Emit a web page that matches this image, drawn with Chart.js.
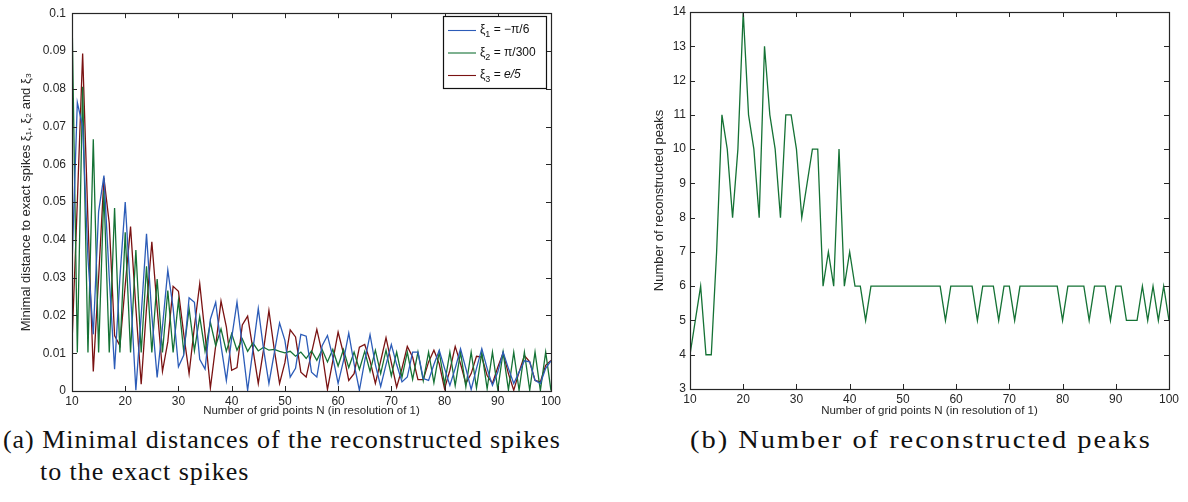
<!DOCTYPE html>
<html>
<head>
<meta charset="utf-8">
<script src="https://cdn.jsdelivr.net/npm/chart.js@4.4.1/dist/chart.umd.min.js"></script>
<style>
  html, body { margin: 0; padding: 0; background: #fff; }
  body { width: 1188px; height: 502px; position: relative; overflow: hidden; }
  canvas { position: absolute; top: 0; }
  #cvA { left: 0; }
  #cvB { left: 600px; }
  .cap { position: absolute; top: 424px; font-family: "Liberation Serif", "DejaVu Serif", serif;
         font-size: 26px; line-height: 32px; letter-spacing: 0.95px; color: #111; white-space: nowrap; }
  #capA { left: 3px; padding-left: 37px; text-indent: -37px; }
  #capB { left: 690px; letter-spacing: 1.8px; transform: scaleX(1.095); transform-origin: 0 0; }
</style>
</head>
<body>
<canvas id="cvA" width="570" height="420"></canvas>
<canvas id="cvB" width="585" height="420"></canvas>
<div class="cap" id="capA">(a) Minimal distances of the reconstructed spikes<br>to the exact spikes</div>
<div class="cap" id="capB">(b) Number of reconstructed peaks</div>
<script>
// Grid sizes N = 10 … 100
const gridN = [];
for (let n = 10; n <= 100; n++) gridN.push(n);

// Minimal distance to exact spike xi1 = -pi/6
const distXi1 = [
  0.033, 0.0764, 0.070, 0.035, 0.015, 0.0475, 0.057, 0.030, 0.0058, 0.030,
  0.050, 0.026, 0.0002, 0.020, 0.0416, 0.020, 0.0036, 0.017, 0.032, 0.022,
  0.0064, 0.0095, 0.0247, 0.0235, 0.0084, 0.0058, 0.019, 0.0235, 0.012, 0.0028,
  0.014, 0.0235, 0.012, 0.0002, 0.011, 0.0218, 0.011, 0.002, 0.010, 0.018,
  0.0134, 0.0037, 0.006, 0.015, 0.0145, 0.005, 0.0037, 0.012, 0.0147, 0.009,
  0.002, 0.008, 0.0153, 0.0072, 0.0002, 0.008, 0.0149, 0.007, 0.0012, 0.007,
  0.0123, 0.007, 0.0024, 0.0037, 0.0103, 0.0103, 0.0033, 0.0028, 0.007, 0.0108,
  0.006, 0.0015, 0.006, 0.0112, 0.006, 0.0004, 0.006, 0.0112, 0.006, 0.0015,
  0.005, 0.0103, 0.006, 0.002, 0.005, 0.008, 0.0077, 0.0028, 0.002, 0.006,
  0.008
];

// Minimal distance to exact spike xi2 = pi/300
const distXi2 = [
  0.100, 0.0102, 0.0805, 0.0102, 0.0666, 0.0102, 0.053, 0.0102, 0.0484, 0.0102,
  0.042, 0.0102, 0.0373, 0.0102, 0.033, 0.0102, 0.0296, 0.0102, 0.0266, 0.0102,
  0.024, 0.0104, 0.0218, 0.0107, 0.0197, 0.0105, 0.0182, 0.012, 0.0164, 0.0105,
  0.0152, 0.0108, 0.0138, 0.0105, 0.0127, 0.0106, 0.0116, 0.0108, 0.011, 0.0105,
  0.0101, 0.0105, 0.0092, 0.0103, 0.0086, 0.0106, 0.0081, 0.011, 0.0077, 0.011,
  0.0066, 0.011, 0.0062, 0.0103, 0.0057, 0.0105, 0.0052, 0.0108, 0.0046, 0.0108,
  0.0040, 0.0103, 0.0036, 0.0103, 0.0031, 0.0103, 0.0027, 0.0103, 0.0022, 0.0103,
  0.0018, 0.0103, 0.0014, 0.0103, 0.0011, 0.0103, 0.0008, 0.0103, 0.0006, 0.0103,
  0.0004, 0.0103, 0.0003, 0.0103, 0.0002, 0.0103, 0.0002, 0.0103, 0.0001, 0.0103,
  0.0001
];

// Minimal distance to exact spike xi3 = e/5
const distXi3 = [
  0.0125, 0.050, 0.0893, 0.045, 0.0052, 0.030, 0.0564, 0.0444, 0.0147, 0.012,
  0.028, 0.0435, 0.022, 0.0018, 0.022, 0.0395, 0.022, 0.0052, 0.013, 0.0277,
  0.0264, 0.015, 0.0046, 0.017, 0.0284, 0.015, 0.0008, 0.012, 0.0238, 0.017,
  0.0055, 0.0062, 0.0175, 0.0198, 0.011, 0.002, 0.011, 0.0213, 0.011, 0.002,
  0.0075, 0.0162, 0.0143, 0.005, 0.0037, 0.010, 0.0163, 0.010, 0.0004, 0.008,
  0.0156, 0.010, 0.0028, 0.0046, 0.0116, 0.0123, 0.008, 0.002, 0.008, 0.0141,
  0.0075, 0.001, 0.006, 0.0118, 0.009, 0.003, 0.003, 0.0077, 0.0108, 0.0072,
  0.0006, 0.0055, 0.0118, 0.0072, 0.002, 0.0046, 0.0092, 0.009, 0.0041, 0.002,
  0.0063, 0.0101, 0.0046, 0.0002, 0.005, 0.0094, 0.0077, 0.0028, 0.0024, 0.0068,
  0.0081
];

// Number of reconstructed peaks
const peakCount = [
  4, 5, 6, 4, 4, 7, 11, 10, 8, 10,
  14, 11, 10, 8, 13, 11, 10, 8, 11, 11,
  10, 8, 9, 10, 10, 6, 7, 6, 10, 6,
  7, 6, 6, 5, 6, 6, 6, 6, 6, 6,
  6, 6, 6, 6, 6, 6, 6, 6, 5, 6,
  6, 6, 6, 6, 5, 6, 6, 6, 5, 6,
  6, 5, 6, 6, 6, 6, 6, 6, 6, 6,
  5, 6, 6, 6, 6, 5, 6, 6, 6, 5,
  6, 6, 5, 5, 5, 6, 5, 6, 5, 6,
  5
];

const seriesLabels = ['ξ1 = −π/6', 'ξ2 = π/300', 'ξ3 = e/5'];
const xTicks = [10, 20, 30, 40, 50, 60, 70, 80, 90, 100];

const COLORS = { blue: '#2c5cb8', green: '#157235', red: '#7a1212' };
const AXIS = '#262626';
const SANS = '"Liberation Sans", Arial, Helvetica, sans-serif';

const pts = vals => vals.map((v, i) => ({ x: gridN[i], y: v }));

// Box around the plot area with MATLAB-style inward tick marks on all sides
const frameTicks = {
  id: 'frameTicks',
  afterDatasetsDraw(chart) {
    const { ctx, chartArea: a, scales: { x, y } } = chart;
    const L = 5;
    ctx.save();
    ctx.strokeStyle = AXIS;
    ctx.lineWidth = 1;
    ctx.beginPath();
    x.ticks.forEach(t => {
      const px = Math.round(x.getPixelForValue(t.value)) + 0.5;
      ctx.moveTo(px, a.bottom); ctx.lineTo(px, a.bottom - L);
      ctx.moveTo(px, a.top); ctx.lineTo(px, a.top + L);
    });
    y.ticks.forEach(t => {
      const py = Math.round(y.getPixelForValue(t.value)) + 0.5;
      ctx.moveTo(a.left, py); ctx.lineTo(a.left + L, py);
      ctx.moveTo(a.right, py); ctx.lineTo(a.right - L, py);
    });
    ctx.stroke();
    ctx.lineWidth = 1.2;
    ctx.strokeRect(Math.round(a.left) + 0.5, Math.round(a.top) + 0.5,
                   Math.round(a.right - a.left), Math.round(a.bottom - a.top));
    ctx.restore();
  }
};

// Boxed legend in the upper right corner with subscripted symbols
const boxLegend = {
  id: 'boxLegend',
  afterDraw(chart) {
    const { ctx, chartArea: a } = chart;
    const w = 103, h = 72;
    const bx = Math.round(a.right) - 5 - w, by = Math.round(a.top) + 3;
    ctx.save();
    ctx.fillStyle = '#fff';
    ctx.fillRect(bx, by, w, h);
    ctx.strokeStyle = '#111';
    ctx.lineWidth = 1.2;
    ctx.strokeRect(bx + 0.5, by + 0.5, w, h);
    chart.data.datasets.forEach((ds, i) => {
      const ly = by + 14 + i * 22.5;
      ctx.strokeStyle = ds.borderColor;
      ctx.lineWidth = 1.1;
      ctx.beginPath();
      ctx.moveTo(bx + 5, ly + 0.5); ctx.lineTo(bx + 33, ly + 0.5);
      ctx.stroke();
      ctx.fillStyle = '#111';
      ctx.textBaseline = 'alphabetic';
      let tx = bx + 37;
      const base = ly + 3;
      const sym = ds.label.slice(0, 1);
      const sub = ds.label.slice(1, 2);
      const rest = ds.label.slice(2);
      ctx.font = '12px ' + SANS;
      ctx.fillText(sym, tx, base); tx += ctx.measureText(sym).width;
      ctx.font = '9px ' + SANS;
      ctx.fillText(sub, tx, base + 4); tx += ctx.measureText(sub).width;
      ctx.font = '12px ' + SANS;
      const italicPart = rest.indexOf('e/5') >= 0;
      const eq = italicPart ? rest.replace('e/5', '') : rest;
      ctx.fillText(eq, tx, base); tx += ctx.measureText(eq).width;
      if (italicPart) {
        ctx.font = 'italic 12px ' + SANS;
        ctx.fillText('e/5', tx, base);
      }
    });
    ctx.restore();
  }
};

function xScale(height) {
  return {
    type: 'linear', min: 10, max: 100,
    afterFit: s => { s.height = height; },
    afterBuildTicks: s => { s.ticks = xTicks.map(v => ({ value: v })); },
    grid: { display: false, drawTicks: false },
    border: { display: false },
    ticks: { color: AXIS, font: { family: SANS, size: 12 }, padding: 3, maxRotation: 0, autoSkip: false },
    title: { display: true, text: 'Number of grid points N (in resolution of 1)', color: AXIS,
             font: { family: SANS, size: 11.5 }, padding: { top: 0, bottom: 2 } }
  };
}

new Chart(document.getElementById('cvA'), {
  type: 'line',
  data: {
    datasets: [
      { label: seriesLabels[0], data: pts(distXi1), borderColor: COLORS.blue },
      { label: seriesLabels[1], data: pts(distXi2), borderColor: COLORS.green },
      { label: seriesLabels[2], data: pts(distXi3), borderColor: COLORS.red }
    ].map(d => Object.assign(d, { borderWidth: 1.3, pointRadius: 0, tension: 0, fill: false }))
  },
  options: {
    responsive: false, animation: false, devicePixelRatio: 1,
    layout: { padding: { left: 0, top: 13, right: 19, bottom: 0 } },
    plugins: { legend: { display: false }, tooltip: { enabled: false } },
    scales: {
      x: xScale(29),
      y: {
        min: 0, max: 0.1,
        afterFit: s => { s.width = 72; },
        grid: { display: false, drawTicks: false },
        border: { display: false },
        ticks: { stepSize: 0.01, color: AXIS, font: { family: SANS, size: 12 }, padding: 6,
                 callback: v => String(+v.toFixed(2)) },
        title: { display: true, text: 'Minimal distance to exact spikes ξ₁, ξ₂ and ξ₃', color: AXIS,
                 font: { family: SANS, size: 13 }, padding: { top: 19, bottom: 0 } }
      }
    }
  },
  plugins: [frameTicks, boxLegend]
});

new Chart(document.getElementById('cvB'), {
  type: 'line',
  data: {
    datasets: [
      { label: 'Number of reconstructed peaks', data: pts(peakCount), borderColor: COLORS.green,
        borderWidth: 1.3, pointRadius: 0, tension: 0, fill: false }
    ]
  },
  options: {
    responsive: false, animation: false, devicePixelRatio: 1,
    layout: { padding: { left: 0, top: 12, right: 16, bottom: 0 } },
    plugins: { legend: { display: false }, tooltip: { enabled: false } },
    scales: {
      x: xScale(31),
      y: {
        min: 3, max: 14,
        afterFit: s => { s.width = 90; },
        grid: { display: false, drawTicks: false },
        border: { display: false },
        ticks: { stepSize: 1, color: AXIS, font: { family: SANS, size: 12 }, padding: 4 },
        title: { display: true, text: 'Number of reconstructed peaks', color: AXIS,
                 font: { family: SANS, size: 13 }, padding: { top: 52, bottom: 0 } }
      }
    }
  },
  plugins: [frameTicks]
});
</script>
</body>
</html>
